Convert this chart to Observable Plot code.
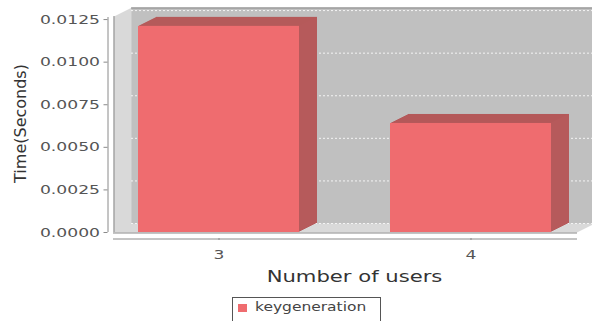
<!DOCTYPE html>
<html>
<head>
<meta charset="utf-8">
<script src="https://cdn.jsdelivr.net/npm/d3@7"></script>
<script src="https://cdn.jsdelivr.net/npm/@observablehq/plot@0.6"></script>
<style>
  html, body { margin: 0; padding: 0; background: #fff; }
  #wrap { position: relative; width: 592px; height: 321px; overflow: hidden; font-family: "DejaVu Sans", sans-serif; }
  #chart svg { display: block; }
  .legend { position: absolute; left: 232px; top: 297px; width: 149px; height: 30px; border: 1px solid #555; box-sizing: border-box; background: #fff; }
  .legend .sw { position: absolute; left: 5px; top: 6px; width: 9px; height: 8px; background: #ef6c6f; }
  .legend .lab { position: absolute; left: 22px; top: 1px; font-size: 13px; color: #444; white-space: nowrap; transform: scaleX(1.19); transform-origin: left center; }
</style>
</head>
<body>
<div id="wrap">
  <div id="chart"></div>
  <div class="legend"><span class="sw"></span><span class="lab" id="legendLabel"></span></div>
</div>
<script>
// ---- data ----
const users = ["3", "4"];
const times = [0.0121, 0.0064];
const yTicks = [0, 0.0025, 0.005, 0.0075, 0.01, 0.0125];
const yMax = 0.01268;
const seriesName = "keygeneration";
const xLabel = "Number of users";
const yLabel = "Time(Seconds)";

const data = users.map((u, i) => ({user: u, time: times[i]}));

// ---- layout / style ----
const W = 592, H = 295;
const mL = 113, mR = 15, mT = 16, mB = 63;
const depthX = 18, depthY = -9, steps = 18;
const frontColor = "#ef6c6f", sideColor = "#b65a5b";
const wallLight = "#d9d9d9", wallBack = "#c0c0c0", lineColor = "#8a8a8a";
const frameCx = (mL + W - mR) / 2;

const marks = [];
// side walls + floor (extrusion sweep of the plot frame)
for (let i = 0; i <= steps; i++) {
  marks.push(Plot.frame({fill: wallLight, stroke: null, dx: i * depthX / steps, dy: i * depthY / steps}));
}
// back wall
marks.push(Plot.frame({fill: wallBack, stroke: null, dx: depthX, dy: depthY}));
// dashed gridlines on back wall
marks.push(Plot.ruleY(yTicks, {stroke: "#f4f4f4", strokeDasharray: "2,2", strokeWidth: 1, dx: depthX, dy: depthY}));
// top edge of back wall
marks.push(Plot.ruleY([yMax], {stroke: lineColor, dx: depthX, dy: depthY + 0.5}));
// bars: 3D extrusion
for (let i = steps; i >= 1; i--) {
  marks.push(Plot.barY(data, {x: "user", y: "time", fill: sideColor, dx: i * depthX / steps, dy: i * depthY / steps}));
}
marks.push(Plot.barY(data, {x: "user", y: "time", fill: frontColor}));
// floor front edge
marks.push(Plot.ruleY([0], {stroke: lineColor, dy: 0.5}));
// left wall front edge
marks.push(Plot.ruleX([0], {x: null, stroke: lineColor, dx: mL + 0.5 - frameCx}));
// y axis line
marks.push(Plot.ruleX([0], {x: null, stroke: lineColor, dx: 107.5 - frameCx, insetTop: 1}));
// x axis line
marks.push(Plot.ruleY([0], {stroke: lineColor, dy: 6.5}));
// axes
marks.push(Plot.axisY(yTicks, {
  tickFormat: d3.format(".4f"), tickSize: 4, tickPadding: 4, dx: -5.5,
  stroke: lineColor, fill: "#555", fontSize: 13, label: null
}));
marks.push(Plot.axisX({
  tickSize: 2, tickPadding: 9, dy: 6, stroke: lineColor, fill: "#555", fontSize: 13, label: null
}));
// axis titles
marks.push(Plot.text([xLabel], {text: d => d, frameAnchor: "bottom", dx: 9, dy: 49, fontSize: 16, fill: "#333"}));
marks.push(Plot.text([yLabel], {text: d => d, frameAnchor: "left", textAnchor: "middle", rotate: -90, dx: 20 - mL, dy: -1, fontSize: 16, fill: "#333"}));

const plot = Plot.plot({
  width: W, height: H,
  marginLeft: mL, marginRight: mR, marginTop: mT, marginBottom: mB,
  style: {fontFamily: "DejaVu Sans, sans-serif", fontSize: "13px", background: "white", color: "#555"},
  x: {domain: users, paddingInner: 0.36, paddingOuter: 0.1, axis: null},
  y: {domain: [0, yMax], axis: null},
  marks
});
document.getElementById("chart").append(plot);
document.getElementById("legendLabel").textContent = seriesName;

// horizontal stretch of the reference's lettering
plot.querySelectorAll("text").forEach(t => {
  if (t.textContent === yLabel) return;
  const len = t.getComputedTextLength();
  if (len > 0) {
    t.setAttribute("textLength", (len * 1.32).toFixed(1));
    t.setAttribute("lengthAdjust", "spacingAndGlyphs");
  }
});
</script>
</body>
</html>
